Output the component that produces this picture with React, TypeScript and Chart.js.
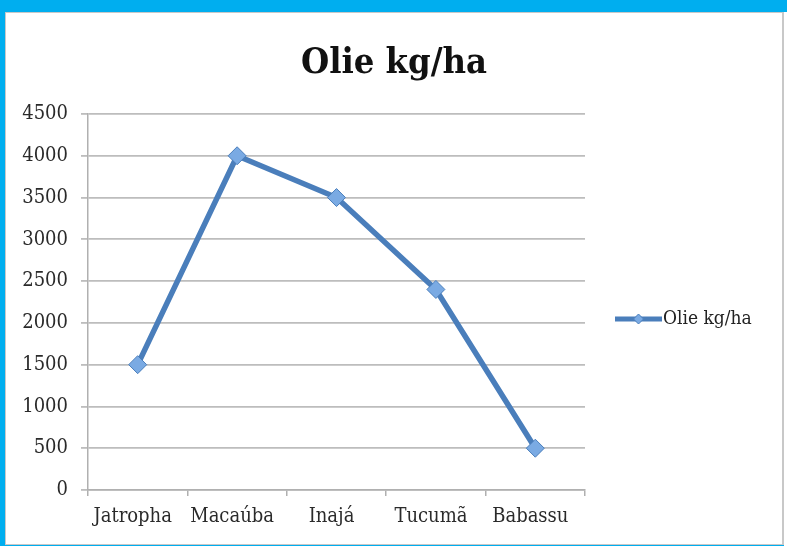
import React, { useEffect, useRef } from "react";
import { Chart, registerables } from "chart.js";

Chart.register(...registerables);

const categories = ["Jatropha", "Macaúba", "Inajá", "Tucumã", "Babassu"];
const seriesLabel = "Olie kg/ha";
const seriesValues = [1500, 4000, 3500, 2400, 500];
const titleText = "Olie kg/ha";
const yMin = 0;
const yMax = 4500;
const yStep = 500;

const LINE = "#4a7ebb";
const POINT_FILL = "#7aaae3";
const FONT = "'DejaVu Serif Condensed', 'DejaVu Serif', serif";

const titlePlugin = {
  id: "centerTitle",
  afterDraw(chart: any) {
    const ctx = chart.ctx;
    ctx.save();
    ctx.fillStyle = "#111";
    ctx.font = `bold 36px ${FONT}`;
    ctx.textAlign = "center";
    ctx.textBaseline = "alphabetic";
    ctx.fillText(titleText, chart.width / 2, 60);
    ctx.restore();
  },
};

const legendPlugin = {
  id: "sideLegend",
  afterDraw(chart: any) {
    const ctx = chart.ctx;
    const ds = chart.data.datasets[0];
    const x0 = 608;
    const y = 306;
    const len = 47;
    ctx.save();
    ctx.strokeStyle = ds.borderColor;
    ctx.lineWidth = 5;
    ctx.lineCap = "butt";
    ctx.beginPath();
    ctx.moveTo(x0, y);
    ctx.lineTo(x0 + len, y);
    ctx.stroke();
    const cx = x0 + len / 2;
    const r = 5;
    ctx.beginPath();
    ctx.moveTo(cx, y - r);
    ctx.lineTo(cx + r, y);
    ctx.lineTo(cx, y + r);
    ctx.lineTo(cx - r, y);
    ctx.closePath();
    ctx.fillStyle = ds.pointBackgroundColor;
    ctx.fill();
    ctx.lineWidth = 1;
    ctx.strokeStyle = ds.borderColor;
    ctx.stroke();
    ctx.fillStyle = "#222";
    ctx.font = `19px ${FONT}`;
    ctx.textBaseline = "middle";
    ctx.textAlign = "left";
    ctx.fillText(ds.label, x0 + len + 1, y);
    ctx.restore();
  },
};

export default function App() {
  const ref = useRef<HTMLCanvasElement | null>(null);

  useEffect(() => {
    document.body.style.margin = "0";
    const canvas = ref.current;
    if (!canvas) return;
    const chart = new Chart(canvas, {
      type: "line",
      data: {
        labels: categories,
        datasets: [
          {
            label: seriesLabel,
            data: seriesValues,
            borderColor: LINE,
            backgroundColor: LINE,
            borderWidth: 5.5,
            pointStyle: "rectRot",
            pointRadius: 9,
            pointBackgroundColor: POINT_FILL,
            pointBorderColor: LINE,
            pointBorderWidth: 1,
            tension: 0,
          },
        ],
      },
      options: {
        animation: false,
        responsive: false,
        maintainAspectRatio: false,
        layout: { padding: { left: 10, right: 196, top: 101, bottom: 0 } },
        plugins: {
          legend: { display: false },
          tooltip: { enabled: false },
          title: { display: false },
        },
        scales: {
          x: {
            type: "category",
            offset: true,
            grid: {
              offset: true,
              drawOnChartArea: false,
              drawTicks: true,
              tickLength: 6,
              color: "#b0b0b0",
              lineWidth: 1.5,
            },
            border: { display: true, color: "#b0b0b0", width: 1.5 },
            ticks: {
              color: "#2a2a2a",
              font: { family: FONT, size: 20 },
              padding: 9,
              labelOffset: -5,
              maxRotation: 0,
              autoSkip: false,
            },
            afterFit(scale: any) {
              scale.height = 52;
            },
          },
          y: {
            min: yMin,
            max: yMax,
            ticks: {
              stepSize: yStep,
              color: "#2a2a2a",
              font: { family: FONT, size: 20 },
              padding: 13,
              callback: (v: any) => String(v),
            },
            grid: {
              color: "#bdbdbd",
              lineWidth: 1.8,
              tickLength: 7,
            },
            border: { display: true, color: "#b0b0b0", width: 1.5 },
            afterFit(scale: any) {
              scale.width = 71;
            },
          },
        },
      },
      plugins: [titlePlugin, legendPlugin],
    });
    return () => chart.destroy();
  }, []);

  return (
    <div
      style={{
        position: "fixed",
        left: 0,
        top: 0,
        width: 787,
        height: 546,
        background: "#00aeef",
        overflow: "hidden",
      }}
    >
      <div
        style={{
          position: "absolute",
          left: 5,
          top: 12,
          width: 776,
          height: 531,
          background: "#fff",
          border: "1px solid #c8c8c8",
          borderRightWidth: 2,
        }}
      >
        <canvas
          ref={ref}
          width={774}
          height={529}
          style={{ position: "absolute", left: 1, top: 0, width: 774, height: 529 }}
        />
      </div>
      <div
        style={{
          position: "absolute",
          left: 784,
          top: 12,
          width: 3,
          height: 534,
          background: "#fff",
        }}
      />
    </div>
  );
}
